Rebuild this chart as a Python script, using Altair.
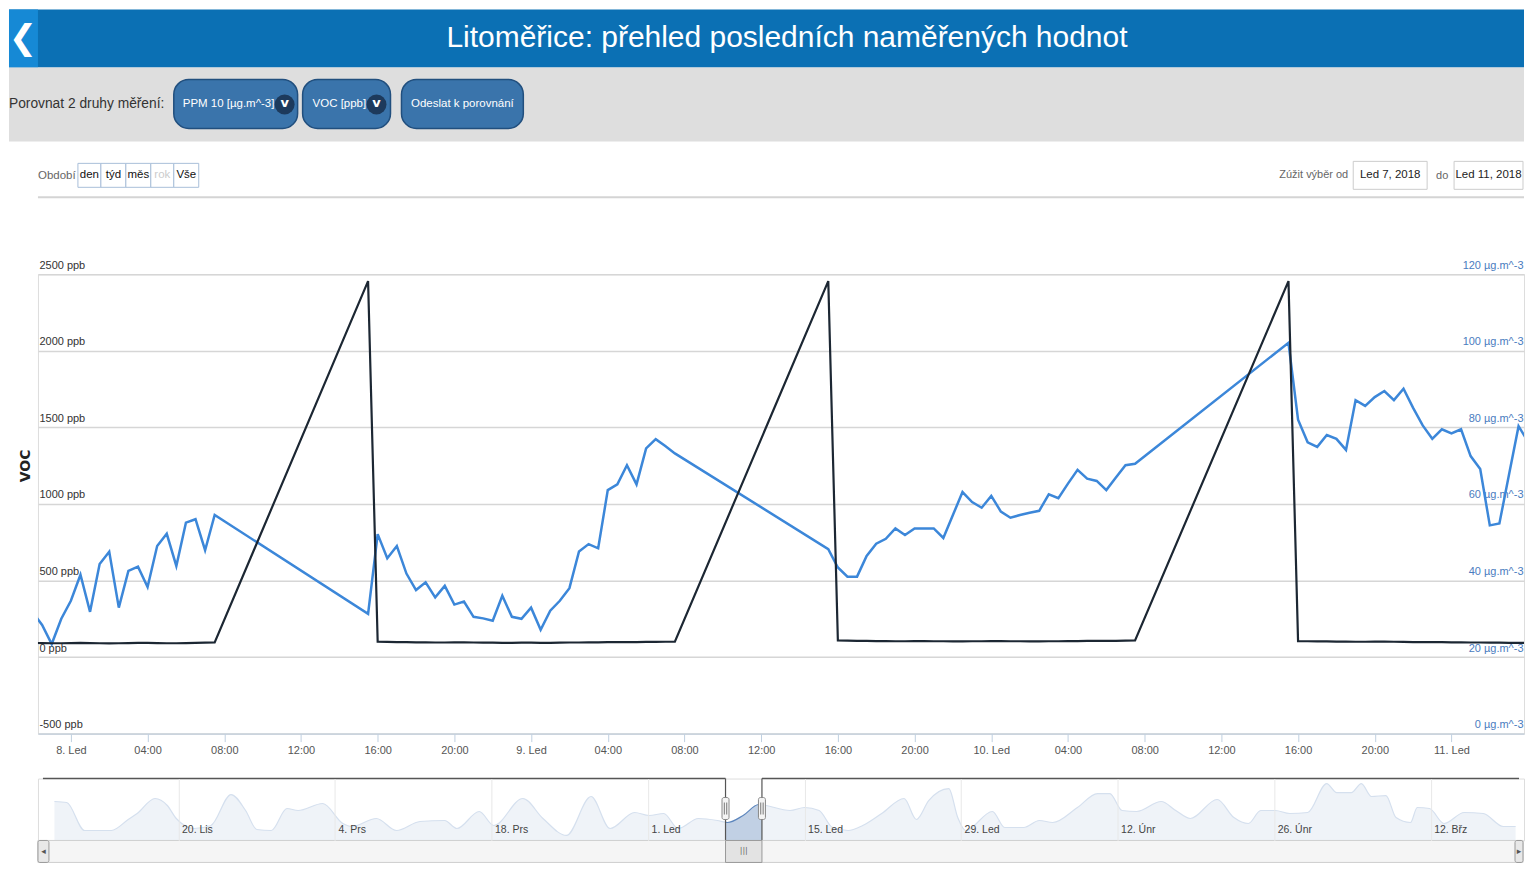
import altair as alt
import pandas as pd

FONT = "Liberation Sans, Arial, sans-serif"
BOLD_FONT = "DejaVu Sans, Verdana, sans-serif"

# ---------------- texts ----------------
MONTHS_CZ = ["Led", "Únr", "Břz", "Dub", "Kvě", "Čvn", "Čvc", "Srp", "Zář", "Říj", "Lis", "Prs"]
TITLE = "Litoměřice: přehled posledních naměřených hodnot"
COMPARE_LABEL = "Porovnat 2 druhy měření:"
BUTTONS = ["PPM 10 [µg.m^-3]", "VOC [ppb]", "Odeslat k porovnání"]
PERIOD_LABEL = "Období"
PERIODS = ["den", "týd", "měs", "rok", "Vše"]
RANGE_LABEL = "Zúžit výběr od"
RANGE_FROM = "Led 7, 2018"
RANGE_SEP = "do"
RANGE_TO = "Led 11, 2018"
Y_TITLE = "VOC"

# ---------------- main series (hours after 8 Jan 2018 00:00) ----------------
HOURS = [
    -2.0, -1.5, -1.0, -0.5, 0.0, 0.5, 1.0, 1.5, 2.0, 2.5,
    3.0, 3.5, 4.0, 4.5, 5.0, 5.5, 6.0, 6.5, 7.0, 7.5,
    15.5,
    16.0, 16.5, 17.0, 17.5, 18.0, 18.5, 19.0, 19.5, 20.0, 20.5,
    21.0, 21.5, 22.0, 22.5, 23.0, 23.5, 24.0, 24.5, 25.0, 25.5,
    26.0, 26.5, 27.0, 27.5, 28.0, 28.5, 29.0, 29.5, 30.0, 30.5,
    31.0, 31.5,
    39.5,
    40.0, 40.5, 41.0, 41.5, 42.0, 42.5, 43.0, 43.5, 44.0, 44.5,
    45.0, 45.5, 46.0, 46.5, 47.0, 47.5, 48.0, 48.5, 49.0, 49.5,
    50.0, 50.5, 51.0, 51.5, 52.0, 52.5, 53.0, 53.5, 54.0, 54.5,
    55.0, 55.5,
    63.5,
    64.0, 64.5, 65.0, 65.5, 66.0, 66.5, 67.0, 67.5, 68.0, 68.5,
    69.0, 69.5, 70.0, 70.5, 71.0, 71.5, 72.0, 72.5, 73.0, 73.5,
    74.0, 74.5, 75.0, 75.5, 76.0, 76.5,
]
# PPM 10 [µg.m^-3] (right axis)
PM10 = [
    31.7, 28.4, 23.4, 30.0, 34.7, 41.5, 31.8, 44.3, 47.5, 32.9,
    42.5, 43.6, 38.3, 49.0, 52.2, 43.8, 55.1, 56.0, 47.9, 57.1,
    31.3,
    52.1, 45.8, 49.0, 41.8, 37.5, 39.5, 35.6, 38.6, 33.7, 34.5,
    30.5, 30.1, 29.5, 36.0, 30.5, 30.0, 32.9, 27.1, 32.1, 34.7,
    38.0, 47.6, 49.5, 48.4, 63.6, 65.1, 70.1, 65.1, 74.5, 76.9,
    75.1, 73.2,
    48.2,
    43.4, 41.0, 41.0, 46.4, 49.6, 50.9, 53.6, 51.9, 53.6, 53.6,
    53.6, 51.1, 57.1, 63.1, 60.5, 59.0, 62.1, 58.0, 56.4, 57.1,
    57.7, 58.2, 62.5, 61.5, 65.3, 68.9, 66.6, 66.0, 63.6, 66.9,
    70.1, 70.5,
    102.1,
    82.0, 76.1, 74.9, 78.0, 77.0, 74.1, 87.1, 85.6, 87.9, 89.5,
    87.1, 90.1, 85.1, 80.5, 77.0, 79.5, 78.4, 79.5, 72.5, 69.1,
    54.4, 54.9, 67.6, 80.3, 76.2, 73.0,
]
# VOC [ppb] (left axis)
VOC = [
    92, 91, 90, 90, 91, 92, 91, 90, 89, 90,
    91, 92, 92, 91, 90, 90, 91, 93, 94, 95,
    2455,
    100, 99, 98, 97, 96, 96, 95, 95, 96, 96,
    95, 94, 94, 93, 93, 94, 94, 93, 93, 94,
    95, 95, 96, 96, 97, 97, 98, 98, 99, 99,
    100, 100,
    2455,
    108, 107, 106, 105, 104, 104, 103, 103, 104, 104,
    103, 103, 102, 102, 103, 103, 104, 104, 103, 103,
    102, 102, 103, 103, 104, 104, 105, 105, 106, 106,
    107, 108,
    2455,
    104, 103, 102, 102, 101, 101, 100, 100, 101, 101,
    100, 99, 98, 98, 97, 97, 96, 96, 95, 95,
    94, 94, 93, 93, 92, 92,
]
X_TICK_HOURS = [0, 4, 8, 12, 16, 20, 24, 28, 32, 36, 40, 44, 48, 52, 56, 60, 64, 68, 72]
VOC_TICKS = [-500, 0, 500, 1000, 1500, 2000, 2500]
PM10_TICKS = [0, 20, 40, 60, 80, 100, 120]

# ---------------- navigator series (days after 1 Jan 2018) ----------------
NAV_DAYS = [
    -53.1, -52.0, -50.4, -48.0, -46.5, -45.7, -44.1, -43.0, -42.2, -40.6,
    -39.1, -37.3, -36.0, -35.0, -33.7, -32.3, -31.3, -29.1, -27.3, -26.5,
    -24.3, -22.5, -20.4, -18.2, -17.1, -15.1, -13.8, -11.2, -9.4, -7.3,
    -5.1, -3.4, -1.2, 0.1, 1.4, 2.7, 4.5, 6.2, 7.1, 8.5,
    9.9, 12.7, 14.0, 15.3, 16.5, 17.9, 19.2, 20.9, 22.9, 24.0,
    25.1, 26.9, 27.7, 28.4, 30.8, 31.9, 33.6, 35.0, 36.2, 38.4,
    40.2, 41.3, 42.4, 43.7, 45.9, 47.2, 48.5, 50.9, 52.4, 53.7,
    54.8, 56.1, 57.4, 59.0, 60.7, 61.6, 62.9, 63.8, 64.7, 66.0,
    66.9, 68.2, 68.8, 69.9, 71.2, 73.0, 74.7, 76.5, 77.6,
]
NAV_VALUES = [
    39, 38, 10, 10, 21, 27, 42, 35, 22, 12,
    15, 46, 30, 11, 10, 32, 30, 37, 17, 14,
    22, 10, 19, 20, 12, 29, 15, 42, 22, 5,
    44, 12, 28, 25, 27, 12, 22, 20, 18, 25,
    36, 30, 33, 30, 13, 10, 15, 27, 42, 21,
    40, 52, 23, 10, 29, 13, 13, 20, 18, 33,
    47, 47, 30, 29, 39, 30, 22, 41, 23, 17,
    30, 30, 27, 28, 57, 48, 48, 57, 44, 45,
    23, 18, 33, 32, 17, 28, 27, 14, 14,
]
NAV_TICK_DATES = [(2017, 11, 20), (2017, 12, 4), (2017, 12, 18), (2018, 1, 1), (2018, 1, 15),
                  (2018, 1, 29), (2018, 2, 12), (2018, 2, 26), (2018, 3, 12)]
MAIN_START = "2018-01-07 22:17"
MAIN_END = "2018-01-11 03:47"
SEL_START = MAIN_START
SEL_END = "2018-01-11 04:28"
NAV_START = "2017-11-07 21:00"
NAV_END = "2018-03-19 21:40"

# ---------------- frames ----------------
MAIN_BASE = pd.Timestamp("2018-01-08 00:00")
NAV_BASE = pd.Timestamp("2018-01-01 00:00")
main_df = pd.DataFrame({
    "time": [MAIN_BASE + pd.Timedelta(hours=h) for h in HOURS],
    "pm10": PM10,
    "voc": VOC,
})
nav_df = pd.DataFrame({
    "time": [NAV_BASE + pd.Timedelta(days=d) for d in NAV_DAYS],
    "val": NAV_VALUES,
})
sel_df = pd.DataFrame({
    "start": [pd.Timestamp(NAV_START), pd.Timestamp(SEL_END)],
    "end": [pd.Timestamp(SEL_START), pd.Timestamp(NAV_END)],
})
window_df = pd.DataFrame({"start": [pd.Timestamp(SEL_START)], "end": [pd.Timestamp(SEL_END)],
                          "mid": [pd.Timestamp(SEL_START) + (pd.Timestamp(SEL_END) - pd.Timestamp(SEL_START)) / 2]})
handle_df = pd.DataFrame({"start": [pd.Timestamp(SEL_START), pd.Timestamp(SEL_END)]})
ONE = pd.DataFrame({"k": [0]})

MONTHS_JS = "[" + ",".join("'%s'" % m for m in MONTHS_CZ) + "]"


def dt(ts):
    t = pd.Timestamp(ts)
    return alt.DateTime(year=t.year, month=t.month, date=t.day, hours=t.hour, minutes=t.minute)


def T(s, x, y, size=13, color="#333", align="left", font=FONT, weight="normal", angle=None, baseline="middle"):
    kw = dict(text=s, align=align, baseline=baseline, fontSize=size, color=color, font=font, fontWeight=weight)
    if angle is not None:
        kw["angle"] = angle
    return alt.Chart(ONE).mark_text(**kw).encode(x=alt.value(x), y=alt.value(y))


def R(x1, x2, y1, y2, fill, stroke=None, sw=1, r=0, opacity=None):
    kw = dict(fill=fill, cornerRadius=r)
    if stroke:
        kw.update(stroke=stroke, strokeWidth=sw)
    if opacity is not None:
        kw["opacity"] = opacity
    return alt.Chart(ONE).mark_rect(**kw).encode(
        x=alt.value(x1), x2=alt.value(x2), y=alt.value(y1), y2=alt.value(y2))


W = 1488
H = 460

# ---------------- header decorations (relative to plot origin) ----------------
hdr = []
hdr.append(R(-29, W, -265, -207, "#0b70b4"))
hdr.append(R(-29, 0, -265, -207, "#1689d5"))
hdr.append(R(-29, W, -207, -133, "#dedede"))
hdr.append(R(0, W, -78, -76, "#d4d4d4"))
btn_x = [(136, 260), (265, 353), (364, 486)]
for (a, b) in btn_x:
    hdr.append(R(a, b, -195, -146, "#3a74ab", stroke="#214f7e", sw=1.5, r=15))
cells = [(40, 63), (63, 88), (88, 113), (113, 136), (136, 161)]
for (a, b) in cells:
    hdr.append(R(a, b, -111, -87, "white", stroke="#a9bfd9", sw=1))
hdr.append(R(1317, 1391, -113, -85, "white", stroke="#cccccc", sw=1))
hdr.append(R(1418, 1487, -113, -85, "white", stroke="#cccccc", sw=1))

hdr_text = []
hdr_text.append(T("❮", -15, -236, size=34, color="white", align="center", font=BOLD_FONT, weight="bold"))
hdr_text.append(T(TITLE, 750, -237, size=30, color="white", align="center"))
hdr_text.append(T(COMPARE_LABEL, -29, -170, size=13.8, color="#333"))
hdr_text.append(T(BUTTONS[0], 145, -170, size=11.5, color="white"))
hdr_text.append(T(BUTTONS[1], 275, -170, size=11.5, color="white"))
hdr_text.append(T(BUTTONS[2], 425, -170, size=11.5, color="white", align="center"))
for cx in (247, 339):
    hdr_text.append(alt.Chart(ONE).mark_circle(size=400, color="#1d3a5c", opacity=1).encode(
        x=alt.value(cx), y=alt.value(-170)))
    hdr_text.append(T("v", cx, -171, size=13, color="white", align="center", font=BOLD_FONT, weight="bold"))
hdr_text.append(T(PERIOD_LABEL, 0, -98, size=11.5, color="#666"))
for (a, b), lab in zip(cells, PERIODS):
    hdr_text.append(T(lab, (a + b) / 2, -99, size=11.5, color="#cccccc" if lab == "rok" else "#111",
                      align="center"))
hdr_text.append(T(RANGE_LABEL, 1243, -99, size=11, color="#666"))
hdr_text.append(T(RANGE_FROM, 1354, -99, size=11.5, color="#222", align="center"))
hdr_text.append(T(RANGE_SEP, 1400, -98, size=11, color="#666"))
hdr_text.append(T(RANGE_TO, 1452.5, -99, size=11.5, color="#222", align="center"))
hdr_text.append(T(Y_TITLE, -12, 192, size=14, color="#222", align="center", font=BOLD_FONT,
                  weight="bold", angle=270))

# ---------------- main plot ----------------
x_main = alt.X(
    "time:T",
    scale=alt.Scale(domain=[dt(MAIN_START), dt(MAIN_END)], nice=False),
    axis=alt.Axis(
        values=[dt(MAIN_BASE + pd.Timedelta(hours=h)) for h in X_TICK_HOURS],
        labelExpr="hours(datum.value) == 0 ? date(datum.value) + '. ' + " + MONTHS_JS
                  + "[month(datum.value)] : timeFormat(datum.value, '%H:%M')",
        title=None, grid=False, domainColor="#c0d0e0", domainWidth=1, tickColor="#c0d0e0", tickSize=8,
        labelColor="#555", labelFontSize=11, labelFont=FONT, labelPadding=3,
        labelOverlap=False, labelFlush=False, labelBound=False),
)

pm10_line = alt.Chart(main_df).mark_line(color="#3c87d9", strokeWidth=2.5, clip=True).encode(
    x=x_main,
    y=alt.Y("pm10:Q", scale=alt.Scale(domain=[0, 120], nice=False, zero=False),
            axis=alt.Axis(orient="right", values=PM10_TICKS, labelExpr="datum.value + ' µg.m^-3'",
                          title=None, grid=False, domain=False, ticks=False, labelAlign="right",
                          labelPadding=-1, labelBaseline="alphabetic", labelOffset=-6,
                          labelColor="#4a7cc0", labelFontSize=11, labelFont=FONT,
                          labelOverlap=False, labelFlush=False, labelBound=False)),
)
voc_line = alt.Chart(main_df).mark_line(color="#1c2733", strokeWidth=2.2, clip=True).encode(
    x=x_main,
    y=alt.Y("voc:Q", scale=alt.Scale(domain=[-500, 2500], nice=False, zero=False),
            axis=alt.Axis(orient="left", values=VOC_TICKS, labelExpr="datum.value + ' ppb'",
                          title=None, grid=True, gridColor="#d6d6d6", gridWidth=1.5, domain=False,
                          ticks=False, labelAlign="left", labelPadding=-1, labelBaseline="alphabetic",
                          labelOffset=-6, labelColor="#333", labelFontSize=11, labelFont=FONT,
                          labelOverlap=False, labelFlush=False, labelBound=False)),
)

main = alt.layer(*hdr, pm10_line, voc_line, *hdr_text).resolve_scale(y="independent").properties(
    width=W, height=H)

# ---------------- navigator ----------------
NH = 62
nav_scale = alt.Scale(domain=[dt(NAV_START), dt(NAV_END)], nice=False)
nav_axis = alt.Axis(
    values=[alt.DateTime(year=y, month=m, date=d) for (y, m, d) in NAV_TICK_DATES],
    labelExpr="date(datum.value) + '. ' + " + MONTHS_JS + "[month(datum.value)]",
    title=None, grid=True, gridColor="#e8e8e8", gridWidth=1, domain=False, ticks=False,
    labelAlign="left", labelBaseline="alphabetic", labelPadding=-8, labelOffset=3,
    labelColor="#444", labelFontSize=10.5, labelFont=FONT, zindex=1,
    labelOverlap=False, labelFlush=False, labelBound=False)

nav_area = alt.Chart(nav_df).mark_area(
    interpolate="monotone", fill="#a7bcd9", line={"stroke": "#5d86bd", "strokeWidth": 1.2}
).encode(
    x=alt.X("time:T", scale=nav_scale, axis=nav_axis),
    y=alt.Y("val:Q", scale=alt.Scale(domain=[0, NH], nice=False), axis=None),
)
nav_mask = alt.Chart(sel_df).mark_rect(fill="white", opacity=0.74).encode(
    x=alt.X("start:T", scale=nav_scale, axis=nav_axis), x2="end:T",
    y=alt.value(0), y2=alt.value(NH))
nav_top = alt.Chart(sel_df).mark_rule(color="#555", strokeWidth=1.5).encode(
    x=alt.X("start:T", scale=nav_scale, axis=nav_axis), x2="end:T", y=alt.value(0))
nav_sides = alt.Chart(handle_df).mark_rule(color="#555", strokeWidth=1.2).encode(
    x=alt.X("start:T", scale=nav_scale, axis=nav_axis), y=alt.value(0), y2=alt.value(NH))
nav_handles = alt.Chart(handle_df).mark_bar(width=7, cornerRadius=2, fill="#f4f4f4", stroke="#888",
                                            strokeWidth=1).encode(
    x=alt.X("start:T", scale=nav_scale, axis=nav_axis), y=alt.value(19), y2=alt.value(41))
nav_grip1 = alt.Chart(handle_df).mark_rule(color="#777", strokeWidth=1, xOffset=-1.2).encode(
    x=alt.X("start:T", scale=nav_scale, axis=nav_axis), y=alt.value(24), y2=alt.value(36))
nav_grip2 = alt.Chart(handle_df).mark_rule(color="#777", strokeWidth=1, xOffset=1.2).encode(
    x=alt.X("start:T", scale=nav_scale, axis=nav_axis), y=alt.value(24), y2=alt.value(36))

scroll_bg = R(0, W - 1, NH, NH + 22, "#f5f5f5", stroke="#cfcfcf", sw=1)
scroll_l = R(0, 11, NH, NH + 22, "#e8e8e8", stroke="#999", sw=1, r=2)
scroll_r = R(W - 9, W - 1, NH, NH + 22, "#e8e8e8", stroke="#999", sw=1, r=2)
scroll_lt = T("◂", 5.5, NH + 11, size=9, color="#555", align="center", font=BOLD_FONT)
scroll_rt = T("▸", W - 5, NH + 11, size=9, color="#555", align="center", font=BOLD_FONT)
thumb = alt.Chart(window_df).mark_rect(fill="#e3e3e3", stroke="#999", strokeWidth=1).encode(
    x=alt.X("start:T", scale=nav_scale, axis=nav_axis), x2="end:T", y=alt.value(NH), y2=alt.value(NH + 22))
thumb_t = alt.Chart(window_df).mark_text(text="|||", fontSize=8, color="#666", font=BOLD_FONT).encode(
    x=alt.X("mid:T", scale=nav_scale, axis=nav_axis), y=alt.value(NH + 11))

nav = alt.layer(nav_area, nav_mask, nav_top, nav_sides, nav_handles, nav_grip1, nav_grip2,
                scroll_bg, scroll_l, scroll_r, scroll_lt, scroll_rt, thumb, thumb_t).properties(
    width=W, height=NH)

chart = alt.vconcat(main, nav, spacing=45, bounds="flush").properties(padding=0).configure_view(
    stroke=None).configure(font=FONT)

chart.save("out.html", embed_options={"renderer": "svg", "actions": False})
